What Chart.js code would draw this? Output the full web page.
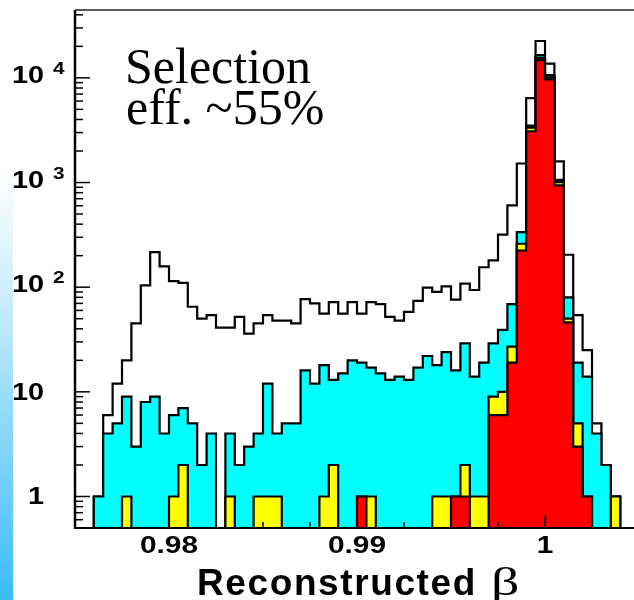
<!DOCTYPE html>
<html>
<head>
<meta charset="utf-8">
<script src="https://cdn.jsdelivr.net/npm/chart.js@4.4.1/dist/chart.umd.min.js"></script>
<style>
  html, body { margin: 0; padding: 0; background: #fff; overflow: hidden; }
  #wrap { position: relative; width: 642px; height: 600px; }
  #band { position: absolute; left: 0; top: 0; width: 13px; height: 600px;
          background: linear-gradient(to bottom, #fff 0px, #fff 170px, #cdeefd 290px, #3bbcf5 600px); }
  canvas { position: absolute; left: 0; top: 0; }
</style>
</head>
<body>
<div id="wrap"><div id="band"></div><canvas id="beta" width="642" height="600"></canvas></div>
<script>
// binning: 60 bins of 0.0005 between 0.975 and 1.005
const xLow = 0.975
const xHigh = 1.005
const nBins = 60

// stacked contents per bin (each level includes the ones below it)
const total = [0, 0, 1, 6, 12, 20, 45, 104, 216, 158,
    114, 110, 65, 50, 54, 41, 41, 52, 36, 45,
    54, 48, 48, 45, 77, 70, 56, 72, 56, 72,
    56, 72, 69, 52, 48, 58, 74, 99, 90, 102,
    76, 108, 94, 155, 180, 318, 605, 1520, 6400, 22500,
    13700, 1590, 204, 54, 25, 5, 2, 1, 0, 0]
const cyanStack = [0, 0, 1, 4, 5, 9, 3, 8, 9, 4,
    6, 7, 5, 2, 4, 0, 4, 2, 3, 4,
    12, 4, 5, 5, 16, 12, 18, 13, 15, 20,
    19, 17, 15, 13, 14, 13, 17, 22, 18, 24,
    16, 29, 14, 19, 29, 39, 69, 336, 3500, 16500,
    10600, 1060, 80, 19, 14, 4, 2, 1, 0, 0]
const yellowStack = [0, 0, 0, 0, 0, 1, 0, 0, 0, 0,
    1, 2, 0, 0, 0, 0, 1, 0, 0, 1,
    1, 1, 0, 0, 0, 0, 1, 2, 0, 0,
    1, 1, 0, 0, 0, 0, 0, 0, 1, 1,
    1, 2, 1, 1, 9, 10, 27, 260, 3350, 15500,
    10100, 1010, 50, 5, 1, 0, 0, 1, 0, 0]
const redStack = [0, 0, 0, 0, 0, 0, 0, 0, 0, 0,
    0, 0, 0, 0, 0, 0, 0, 0, 0, 0,
    0, 0, 0, 0, 0, 0, 0, 0, 0, 0,
    1, 0, 0, 0, 0, 0, 0, 0, 0, 0,
    1, 1, 0, 0, 6, 6, 19, 224, 3090, 14760,
    9660, 940, 46, 3, 1, 0, 0, 0, 0, 0]

const xTickValues = [0.98, 0.99, 1]
const xTickText = ['0.98', '0.99', '1']
const yTickValues = [1, 10, 100, 1000, 10000]
const yTickBase = ['1', '10', '10', '10', '10']
const yTickPower = ['', '', '2', '3', '4']

const yMin = 0.5
const yMax = 44500

// one point per left bin edge, stepped so each value holds across its bin
function steps(counts) {
    const w = (xHigh - xLow) / nBins
    let pts = counts.map((c, i) => ({ x: xLow + i * w, y: c > 0 ? c : yMin }))
    pts.push({ x: xHigh, y: yMin })
    return pts
}

function hist(label, counts, color) {
    return {
        label: label,
        data: steps(counts),
        stepped: true,
        fill: 'start',
        backgroundColor: color,
        borderColor: '#000',
        borderWidth: 2.2,
        borderJoinStyle: 'miter',
        pointRadius: 0,
    }
}

function stretchText(ctx, text, x, y, sx, align) {
    ctx.save()
    ctx.translate(x, y)
    ctx.scale(sx, 1)
    ctx.textAlign = align
    ctx.fillText(text, 0, 0)
    ctx.restore()
}

const axisFrame = {
    id: 'axisFrame',
    afterDatasetsDraw(chart) {
        const { ctx, chartArea: a, scales: { x, y } } = chart
        ctx.save()
        ctx.strokeStyle = '#000'
        ctx.lineWidth = 1.5

        // x ticks point up into the frame
        for (let i = 0; i <= 12; i++) {
            const v = xLow + i * 0.0025
            const px = x.getPixelForValue(v)
            const major = Math.abs(v * 100 - Math.round(v * 100)) < 1e-6
            ctx.beginPath()
            ctx.moveTo(px, a.bottom)
            ctx.lineTo(px, a.bottom - (major ? 12 : 6))
            ctx.stroke()
        }

        // log ticks on the left axis
        for (let e = -1; e <= 4; e++) {
            for (let m = 1; m <= 9; m++) {
                const v = m * Math.pow(10, e)
                if (v <= y.min || v >= y.max) continue
                const py = y.getPixelForValue(v)
                ctx.beginPath()
                ctx.moveTo(a.left, py)
                ctx.lineTo(a.left + (m === 1 ? 15 : 8), py)
                ctx.stroke()
            }
        }

        // frame
        ctx.strokeStyle = '#222'
        ctx.lineWidth = 1.7
        ctx.beginPath()
        ctx.moveTo(a.left, a.top)
        ctx.lineTo(a.right, a.top)
        ctx.stroke()
        ctx.strokeStyle = '#000'
        ctx.lineWidth = 2
        ctx.beginPath()
        ctx.moveTo(a.left, a.bottom)
        ctx.lineTo(a.right, a.bottom)
        ctx.stroke()
        ctx.lineWidth = 2.5
        ctx.beginPath()
        ctx.moveTo(a.left, a.top)
        ctx.lineTo(a.left, a.bottom + 1)
        ctx.stroke()

        // tick labels
        ctx.fillStyle = '#000'
        ctx.textBaseline = 'alphabetic'
        yTickValues.forEach((v, i) => {
            const py = y.getPixelForValue(v)
            const pw = yTickPower[i]
            ctx.font = 'bold 24px "Liberation Sans"'
            stretchText(ctx, yTickBase[i], 44, py + (pw ? 5 : 8), 1.2, 'right')
            if (pw) {
                ctx.font = 'bold 16px "Liberation Sans"'
                stretchText(ctx, pw, 53, py - 4, 1.3, 'left')
            }
        })
        ctx.font = 'bold 23px "Liberation Sans"'
        xTickValues.forEach((v, i) => {
            stretchText(ctx, xTickText[i], x.getPixelForValue(v), 553, 1.3, 'center')
        })

        // axis title
        ctx.textAlign = 'left'
        ctx.font = 'bold 37px "Liberation Sans"'
        ctx.letterSpacing = '1.6px'
        ctx.fillText('Reconstructed', 197, 595)
        ctx.letterSpacing = '0px'
        ctx.font = '40px "Liberation Serif"'
        stretchText(ctx, '\u03b2', 491, 595, 1.4, 'left')

        // efficiency note
        ctx.font = '50px "Liberation Serif"'
        ctx.fillText('Selection', 125, 83)
        ctx.fillText('eff. ~55%', 126, 124)
        ctx.restore()
    }
}

const ctx = document.getElementById('beta').getContext('2d')
let chart = new Chart(ctx, {
    type: 'line',
    data: {
        datasets: [
            hist('red', redStack, '#ff0000'),
            hist('yellow', yellowStack, '#ffff00'),
            hist('cyan', cyanStack, '#00ffff'),
            hist('total', total, '#ffffff'),
        ],
    },
    options: {
        responsive: false,
        animation: false,
        events: [],
        layout: {
            padding: { left: 75, top: 10, right: 3, bottom: 72 },
        },
        scales: {
            x: { type: 'linear', min: xLow, max: xHigh, display: false },
            y: { type: 'logarithmic', min: yMin, max: yMax, display: false },
        },
        plugins: {
            legend: { display: false },
            tooltip: { enabled: false },
        },
    },
    plugins: [axisFrame],
})
</script>
</body>
</html>
